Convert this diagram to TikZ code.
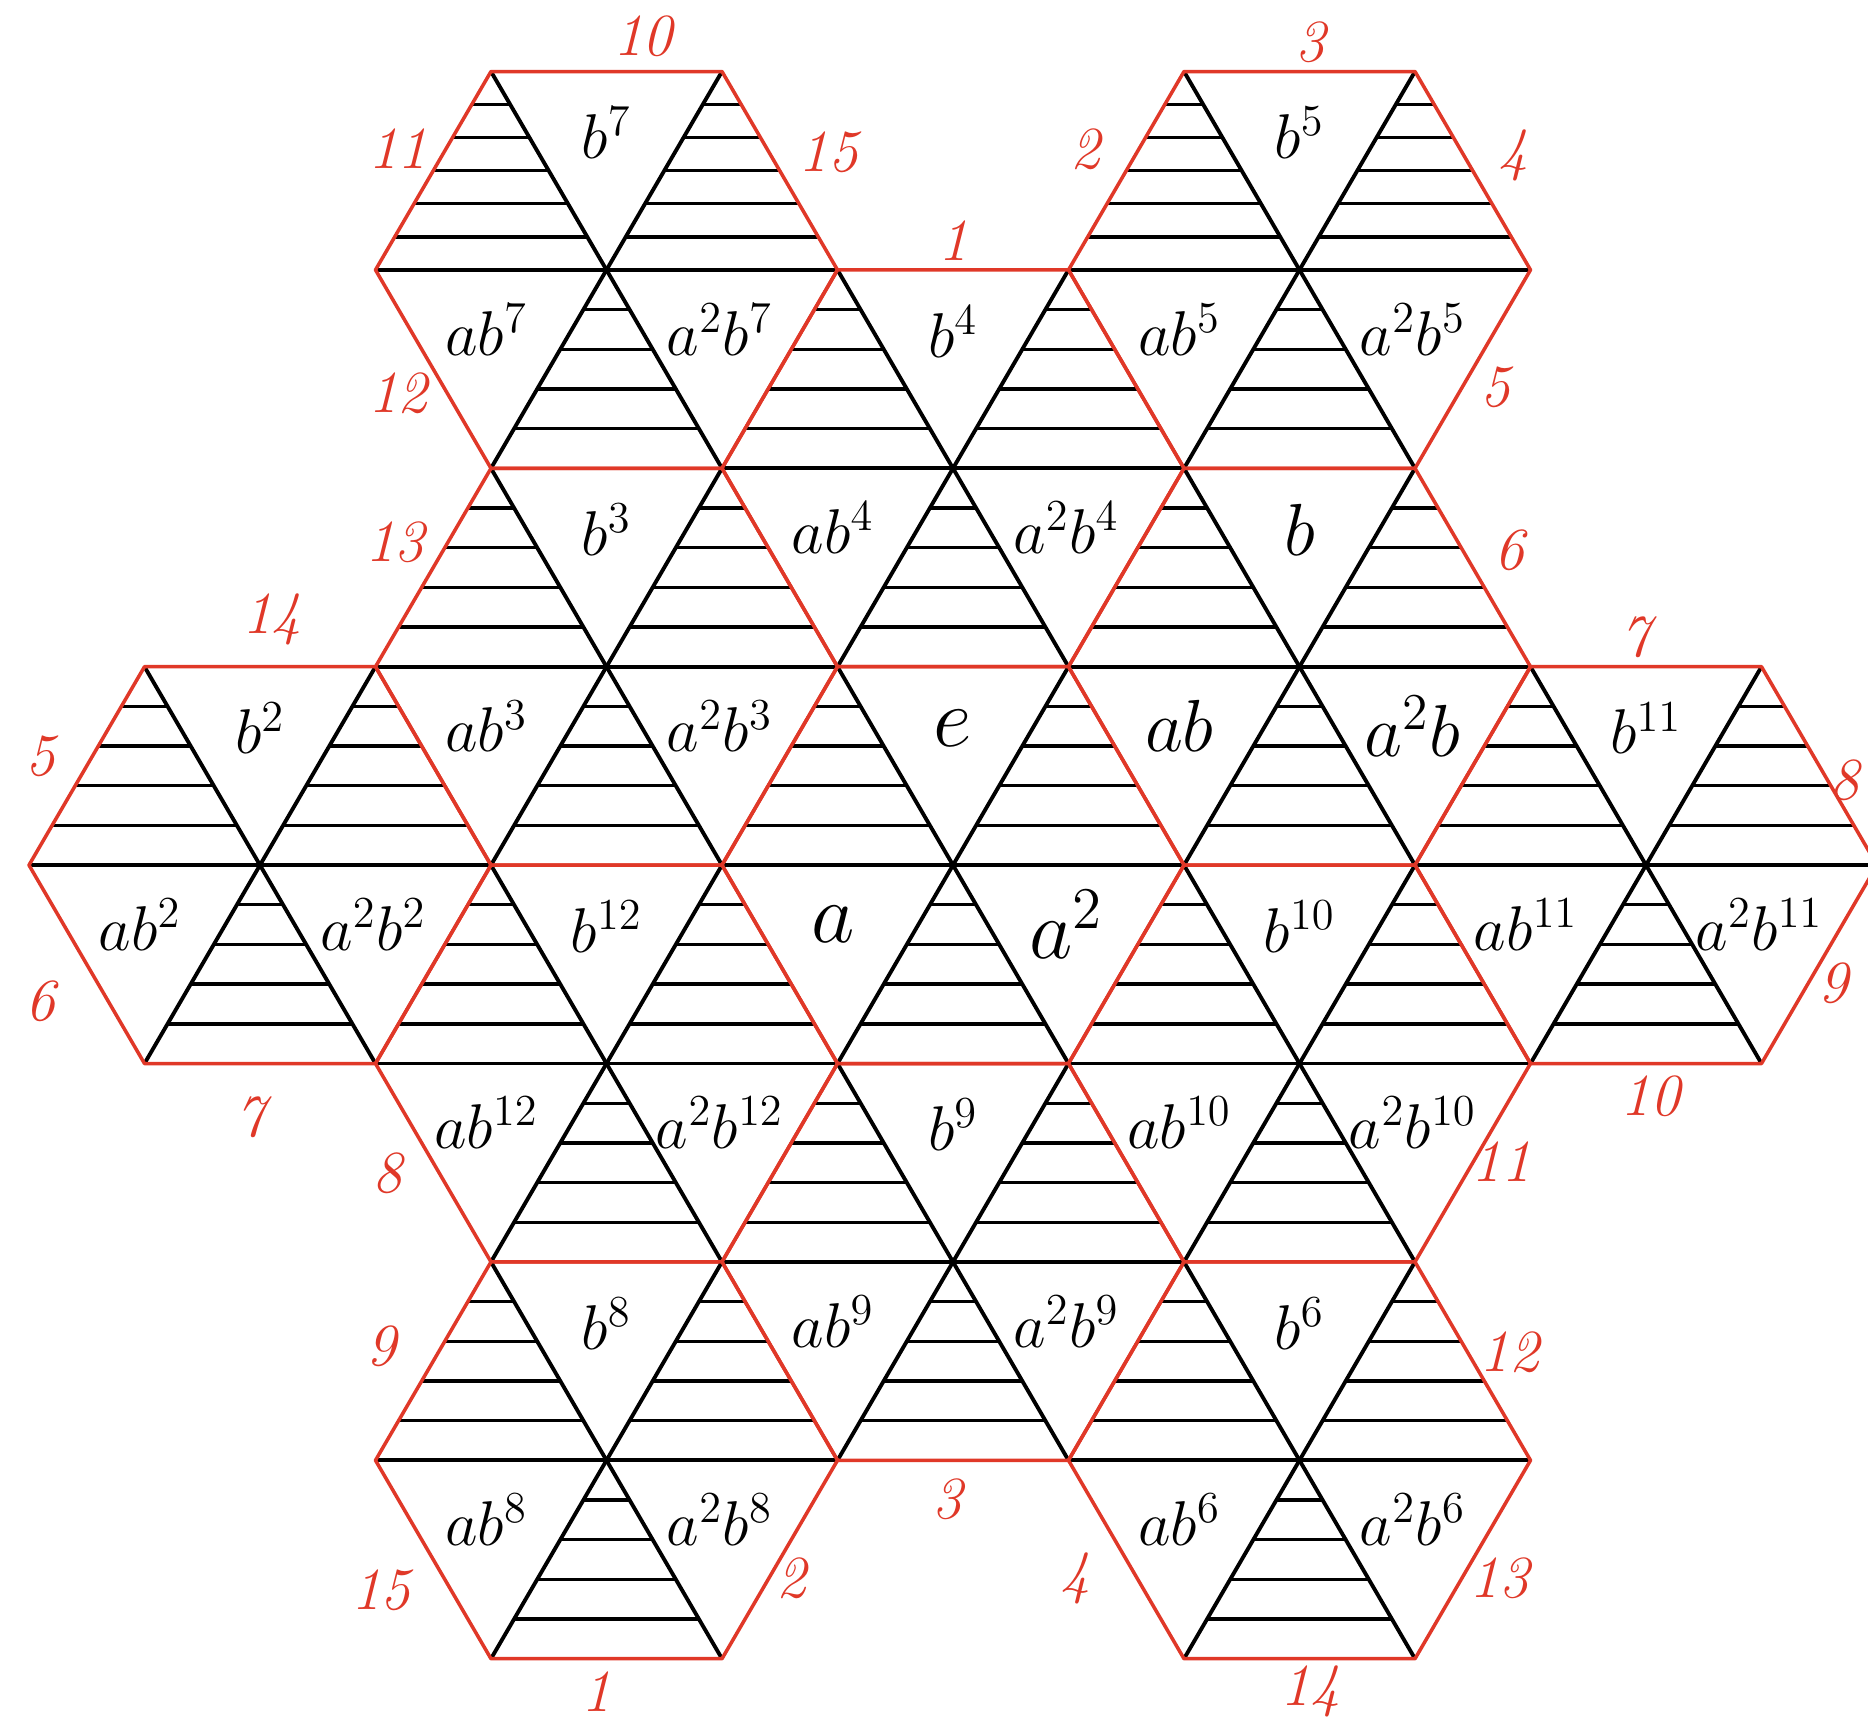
\RequirePackage{fix-cm}
\documentclass[tikz,border=0pt]{standalone}
\definecolor{edgered}{RGB}{224,56,40}
\begin{document}
\begin{tikzpicture}[x=2.31cm,y=-1.984cm,
  redline/.style={draw=edgered,line width=1pt,line join=round},
  blackline/.style={draw=black,line width=1.1pt},
  hatch/.style={draw=black,line width=0.95pt},
  grp/.style={inner sep=0pt},
  num/.style={text=edgered,font=\fontsize{17}{20}\selectfont\itshape,inner sep=0pt}]
\path[use as bounding box,fill=white] (-9.53cm,0.715cm) rectangle (9.15cm,-16.505cm);
\foreach \cx/\k/\nu/\fs/\nm/\tl/\ll/\lr in {
 -1.5/1/5/18/h7/{b^{7}}/{ab^{7}}/{a^{2}b^{7}},
 1.5/1/5/18/h5/{b^{5}}/{ab^{5}}/{a^{2}b^{5}},
 0/2/4/18/h4/{b^{4}}/{ab^{4}}/{a^{2}b^{4}},
 -1.5/3/4/18/h3/{b^{3}}/{ab^{3}}/{a^{2}b^{3}},
 1.5/3/4/21/h1/{b}/{ab}/{a^{2}b},
 0/4/4/24/h0/{e}/{a}/{a^{2}},
 -3/4/4/18/h2/{b^{2}}/{ab^{2}}/{a^{2}b^{2}},
 3/4/4/18/h11/{b^{11}}/{ab^{11}}/{a^{2}b^{11}},
 -1.5/5/4/18/h12/{b^{12}}/{ab^{12}}/{a^{2}b^{12}},
 1.5/5/4/18/h10/{b^{10}}/{ab^{10}}/{a^{2}b^{10}},
 0/6/4/18/h9/{b^{9}}/{ab^{9}}/{a^{2}b^{9}},
 -1.5/7/4/18/h8/{b^{8}}/{ab^{8}}/{a^{2}b^{8}},
 1.5/7/4/18/h6/{b^{6}}/{ab^{6}}/{a^{2}b^{6}}}
{
  % hatching of the two upper triangles
  \foreach \i in {1,...,\nu}{
    \pgfmathsetmacro\t{\i/(\nu+1)}
    \draw[hatch] ({\cx-0.5-\t/2},{\k-1+\t}) -- ({\cx-0.5+\t/2},{\k-1+\t});
    \draw[hatch] ({\cx+0.5-\t/2},{\k-1+\t}) -- ({\cx+0.5+\t/2},{\k-1+\t});
  }
  % hatching of the lower middle triangle
  \foreach \i in {1,...,4}{
    \pgfmathsetmacro\t{\i/5}
    \draw[hatch] ({\cx-\t/2},{\k+\t}) -- ({\cx+\t/2},{\k+\t});
  }
  % three black diagonals
  \draw[blackline] ({\cx-1},\k) -- ({\cx+1},\k);
  \draw[blackline] ({\cx-0.5},{\k-1}) -- ({\cx+0.5},{\k+1});
  \draw[blackline] ({\cx+0.5},{\k-1}) -- ({\cx-0.5},{\k+1});
  % red outline
  \draw[redline] ({\cx-1},\k) -- ({\cx-0.5},{\k-1}) -- ({\cx+0.5},{\k-1})
     -- ({\cx+1},\k) -- ({\cx+0.5},{\k+1}) -- ({\cx-0.5},{\k+1}) -- cycle;
  % labels
  \node[grp,font=\fontsize{\fs}{\fs}\selectfont] (t\nm) at (\cx,{\k-0.69}) {$\tl$};
  \node[grp,font=\fontsize{\fs}{\fs}\selectfont] (l\nm) at ({\cx-0.52},{\k+0.30}) {$\ll$};
  \node[grp,font=\fontsize{\fs}{\fs}\selectfont] (r\nm) at ({\cx+0.49},{\k+0.30}) {$\lr$};
}
% edge numbers
\node[num] (n10a) at (-3.10cm,0.355cm) {10};
\node[num] (n11a) at (-5.55cm,-0.775cm) {11};
\node[num] (n15a) at (-1.25cm,-0.805cm) {15};
\node[num] (n12a) at (-5.55cm,-3.215cm) {12};
\node[num] (n1a) at (0.00cm,-1.695cm) {1};
\node[num] (n2a) at (1.32cm,-0.775cm) {2};
\node[num] (n3a) at (3.57cm,0.295cm) {3};
\node[num] (n4a) at (5.60cm,-0.835cm) {4};
\node[num] (n5a) at (5.42cm,-3.155cm) {5};
\node[num] (n6a) at (5.56cm,-4.785cm) {6};
\node[num] (n7a) at (6.82cm,-5.655cm) {7};
\node[num] (n8a) at (8.91cm,-7.085cm) {8};
\node[num] (n9a) at (8.80cm,-9.115cm) {9};
\node[num] (n10b) at (6.97cm,-10.245cm) {10};
\node[num] (n11b) at (5.48cm,-10.905cm) {11};
\node[num] (n12b) at (5.56cm,-12.805cm) {12};
\node[num] (n13b) at (5.46cm,-15.065cm) {13};
\node[num] (n14b) at (3.57cm,-16.2cm) {14};
\node[num] (n4b) at (1.22cm,-15.065cm) {4};
\node[num] (n3b) at (-0.06cm,-14.275cm) {3};
\node[num] (n2b) at (-1.62cm,-15.065cm) {2};
\node[num] (n1b) at (-3.57cm,-16.2cm) {1};
\node[num] (n15b) at (-5.72cm,-15.185cm) {15};
\node[num] (n9b) at (-5.72cm,-12.745cm) {9};
\node[num] (n8b) at (-5.66cm,-11.015cm) {8};
\node[num] (n7b) at (-7.03cm,-10.455cm) {7};
\node[num] (n6b) at (-9.13cm,-9.295cm) {6};
\node[num] (n5b) at (-9.13cm,-6.845cm) {5};
\node[num] (n14a) at (-6.81cm,-5.475cm) {14};
\node[num] (n13a) at (-5.58cm,-4.705cm) {13};
\end{tikzpicture}
\end{document}
